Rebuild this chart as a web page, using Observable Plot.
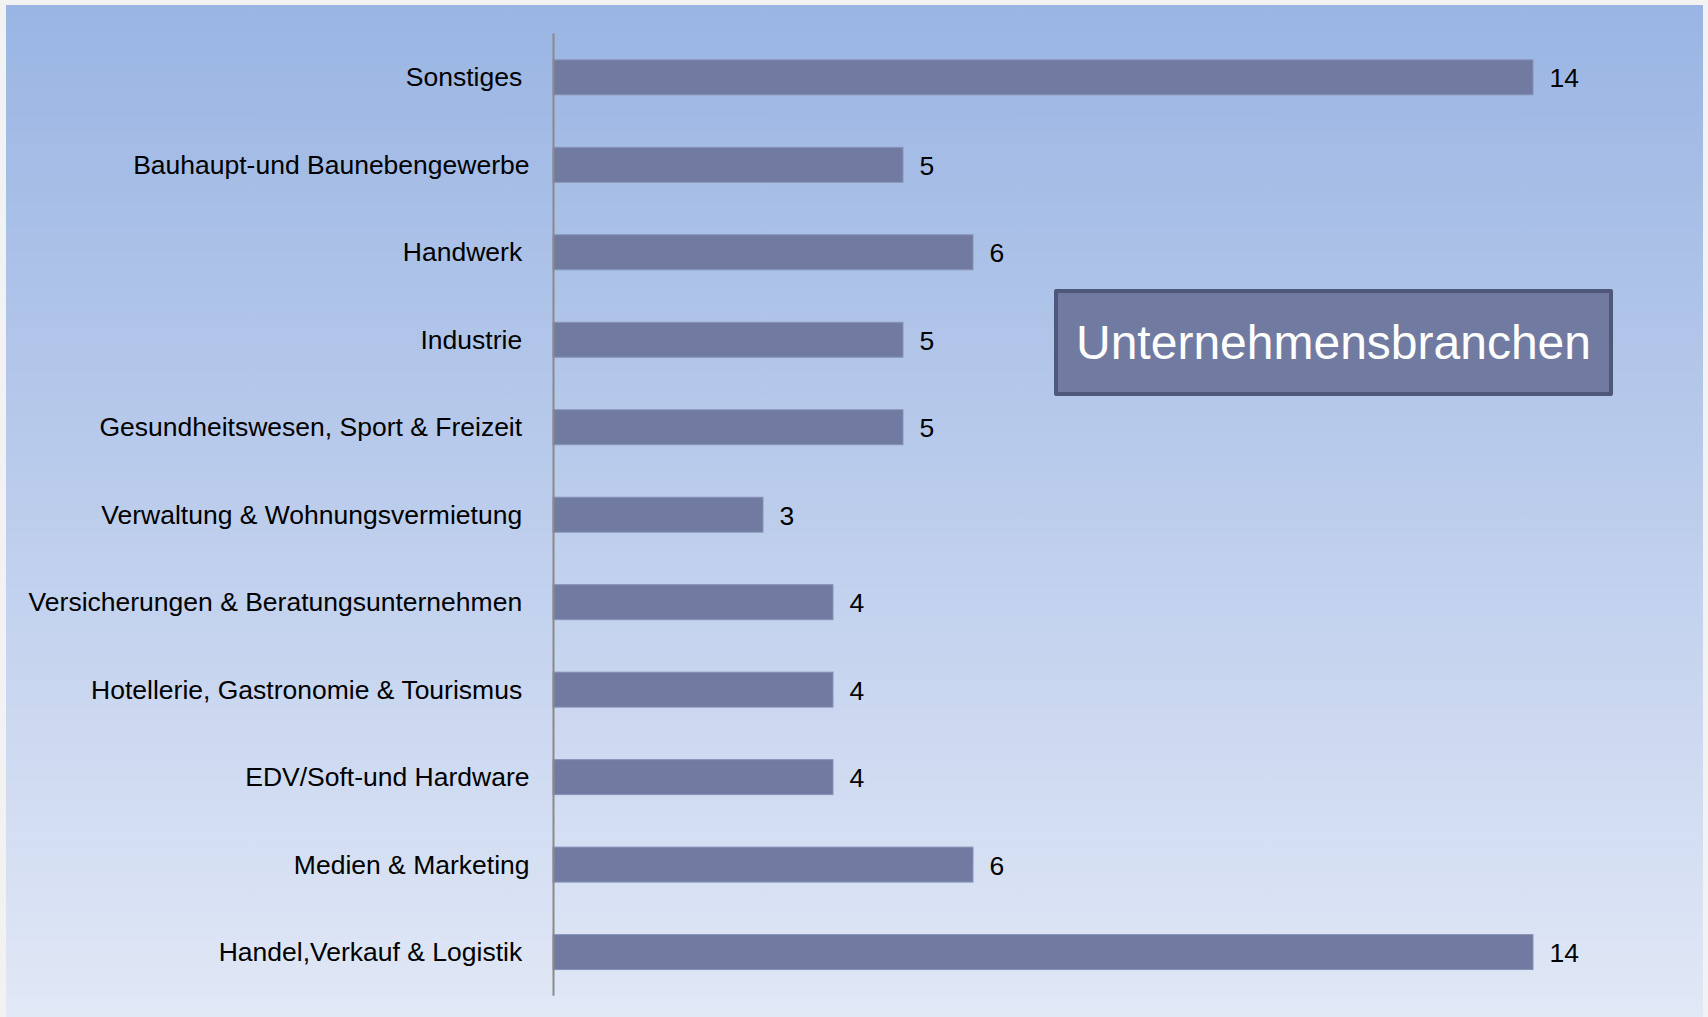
<!DOCTYPE html>
<html>
<head>
<meta charset="utf-8">
<script src="https://cdn.jsdelivr.net/npm/d3@7"></script>
<script src="https://cdn.jsdelivr.net/npm/@observablehq/plot@0.6"></script>
<style>
  html, body { margin: 0; padding: 0; background: #f2f2f2; width: 1708px; height: 1017px; overflow: hidden; }
  #panel {
    position: absolute; left: 6px; top: 5px; width: 1697px; height: 1012px;
    background: linear-gradient(to bottom, #9ab5e3 0%, #bccdec 50%, #e1e8f6 100%);
  }
  #title {
    position: absolute; left: 1048px; top: 284px; width: 559px; height: 107px;
    box-sizing: border-box; border: 4px solid #4f5879; background: #717ba1;
    color: #ffffff; font-family: "Liberation Sans", Arial, sans-serif; font-size: 48px;
    display: flex; align-items: center; justify-content: center; border-radius: 2px;
  }
</style>
</head>
<body>
<div id="panel"><div id="chart"></div><div id="title">Unternehmensbranchen</div></div>
<script>
const categories = [
  "Sonstiges\u00a0",
  "Bauhaupt-und Baunebengewerbe",
  "Handwerk\u00a0",
  "Industrie\u00a0",
  "Gesundheitswesen, Sport & Freizeit\u00a0",
  "Verwaltung & Wohnungsvermietung\u00a0",
  "Versicherungen & Beratungsunternehmen\u00a0",
  "Hotellerie, Gastronomie & Tourismus\u00a0",
  "EDV/Soft-und Hardware",
  "Medien & Marketing",
  "Handel,Verkauf & Logistik\u00a0"
];
const values = [14, 5, 6, 5, 5, 3, 4, 4, 4, 6, 14];

const data = categories.map((c, i) => ({category: c, value: values[i]}));

const chart = Plot.plot({
  width: 1697,
  height: 1012,
  marginLeft: 547,
  marginRight: 170,
  marginTop: 28.6,
  marginBottom: 21.2,
  style: {background: "transparent", fontFamily: "'Liberation Sans', Arial, sans-serif", fontSize: "26.5px", color: "#000"},
  x: {domain: [0, 14], axis: null},
  y: {domain: categories, paddingInner: 0.6, paddingOuter: 0.3, round: false, label: null},
  marks: [
    Plot.barX(data, {x: "value", y: "category", fill: "#717ba1", stroke: "#8893b8", strokeWidth: 1}),
    Plot.ruleX([0], {stroke: "#8a8a8a", strokeWidth: 2}),
    Plot.axisY({tickSize: 0, tickPadding: 24, fontSize: 26.5, fill: "#000", label: null}),
    Plot.text(data, {x: "value", y: "category", text: d => String(d.value), dx: 16, dy: 1, textAnchor: "start", fontSize: 26.5, fill: "#000"})
  ]
});
document.getElementById("chart").appendChild(chart);
</script>
</body>
</html>
